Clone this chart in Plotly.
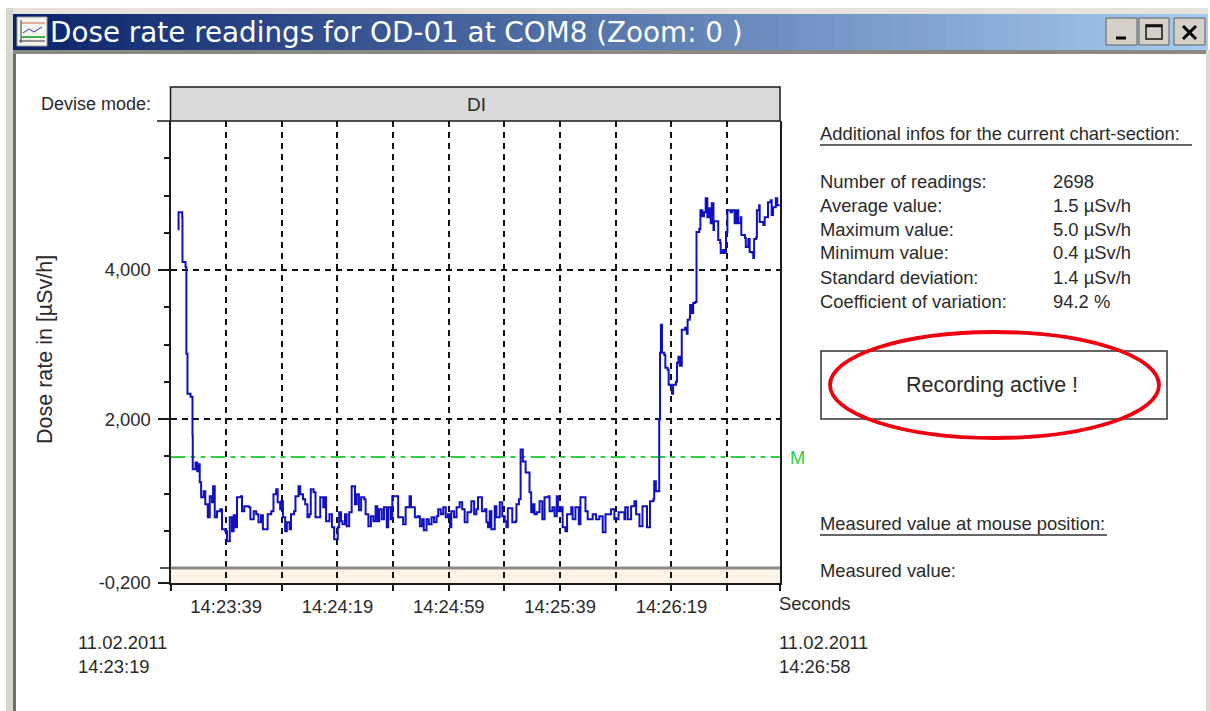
import plotly.graph_objects as go

W, H = 1210, 711

# ---------- chart data (seconds after 14:23:19, dose rate) ----------
seconds = [2.9,2.9,4.2,4.3,5.4,5.7,6.1,7.2,7.9,8.0,9.0,9.6,10.1,10.5,11.0,11.9,12.5,13.4,14.1,14.9,15.3,15.9,16.7,17.9,18.5,19.7,20.3,21.3,22.1,22.7,23.3,23.9,25.3,25.7,26.5,28.1,28.7,29.9,30.8,31.6,32.5,33.2,34.4,34.9,36.2,37.0,38.0,38.5,39.4,39.8,40.4,41.2,41.8,42.8,43.3,44.4,44.9,46.0,46.6,47.6,48.4,49.2,49.9,50.4,51.4,52.1,53.2,53.8,54.9,55.2,55.9,57.1,58.0,58.8,60.1,60.6,61.3,61.8,62.7,63.3,64.2,64.9,65.1,65.9,66.3,66.9,67.7,68.5,69.6,70.1,71.1,72.0,72.9,73.7,74.3,75.0,75.9,76.7,77.7,78.2,79.1,79.7,81.2,81.8,83.0,83.6,84.5,85.7,85.9,86.4,87.3,87.8,88.8,89.6,90.4,91.0,92.0,92.8,93.8,94.7,95.6,96.2,97.1,98.0,98.9,99.7,100.4,100.9,101.9,102.8,103.9,104.8,105.7,106.7,107.9,108.1,109.1,109.9,110.5,111.4,111.9,112.9,113.5,114.1,114.7,115.3,116.5,117.1,118.3,119.2,120.1,120.7,121.2,122.4,122.8,124.0,124.3,125.2,125.8,126.6,127.6,129.0,129.6,130.2,130.8,131.6,132.6,133.6,134.4,135.8,136.2,137.2,138.0,138.8,139.2,140.4,140.9,141.9,142.5,144.0,144.5,145.5,146.7,147.3,148.4,149.1,149.9,151.7,152.9,154.1,155.3,156.3,157.7,158.3,159.5,161.0,163.1,163.4,164.3,165.5,166.7,167.3,168.5,169.6,171.2,172.3,173.5,173.8,174.4,175.4,175.6,175.9,176.2,176.6,177.4,177.8,178.6,179.0,179.8,180.2,180.6,181.6,182.0,182.5,183.0,183.7,183.7,184.9,185.5,185.8,186.6,186.7,187.3,187.8,188.5,189.0,190.0,190.4,191.1,191.7,192.3,192.9,193.5,194.1,194.5,195.1,195.3,196.5,196.8,197.5,197.7,198.5,198.9,199.6,200.1,201.3,201.8,202.7,203.3,204.0,204.9,205.1,206.4,206.7,207.6,208.1,209.1,209.4,209.7,210.5,210.7,211.5,211.7,212.6,213.0,213.5,214.4,214.7,215.7,216.0,216.5,217.5,218.0,218.9]
dose = [4535,4777,4710,4108,4040,2877,2341,2301,1780,1325,1418,1298,1392,1151,950,1030,856,682,963,883,1097,682,763,789,522,495,361,682,495,709,549,950,963,763,830,816,656,763,723,615,709,522,522,723,763,990,1057,883,789,896,682,495,615,522,723,763,963,1097,990,923,856,682,723,1057,1017,682,682,950,816,950,629,723,549,388,549,749,629,589,723,562,749,749,1097,1097,856,990,776,950,923,723,562,696,629,830,629,789,656,816,549,816,656,963,963,682,682,589,816,816,963,816,816,682,696,562,656,508,656,589,682,615,696,789,723,816,682,723,549,763,682,816,883,789,615,749,763,896,723,789,950,950,763,789,615,549,763,522,830,682,883,696,629,549,803,803,615,629,856,923,1592,1432,1284,1017,749,856,723,749,896,656,950,963,763,816,696,963,763,816,549,495,723,816,656,816,589,950,950,763,656,723,656,696,482,723,723,789,656,749,656,816,656,830,896,723,562,830,549,896,923,1164,1030,1030,1994,2890,3265,2890,2863,2689,2663,2462,2422,2341,2462,2502,2756,2837,2716,2716,3198,3225,3144,3332,3372,3532,3425,3559,3572,4509,4549,4803,4723,4777,4964,4710,4830,4629,4897,4536,4656,4656,4402,4362,4228,4268,4228,4509,4803,4777,4803,4629,4803,4629,4710,4469,4429,4308,4415,4241,4228,4161,4415,4442,4803,4870,4643,4643,4603,4710,4710,4910,4937,4737,4844,4964,4870,4870]
mean_dose = 1490
x_tick_seconds = [0, 20, 40, 60, 80, 100, 120, 140, 160, 180, 200, 219]
x_tick_labels = ["", "14:23:39", "", "14:24:19", "", "14:24:59", "", "14:25:39", "", "14:26:19", "", ""]
y_tick_values = [-200, 2000, 4000]
y_tick_labels = ["-0,200", "2,000", "4,000"]
info_labels = ["Number of readings:", "Average value:", "Maximum value:", "Minimum value:", "Standard deviation:", "Coefficient of variation:"]
info_values = ["2698", "1.5 µSv/h", "5.0 µSv/h", "0.4 µSv/h", "1.4 µSv/h", "94.2 %"]

FONT = "Liberation Sans"
INK = "#2a2a2a"
TXT = 18.4

def px(x): return x / W
def py(y): return 1 - y / H

shapes, notes = [], []

def rect(x0, y0, x1, y1, fill=None, line=None, lw=1, layer="above"):
    shapes.append(dict(type="rect", xref="paper", yref="paper", x0=px(x0), x1=px(x1), y0=py(y0), y1=py(y1),
                       fillcolor=fill or "rgba(0,0,0,0)", line=dict(color=line or "rgba(0,0,0,0)", width=lw if line else 0), layer=layer))

def seg(x0, y0, x1, y1, color, lw=1, layer="above"):
    shapes.append(dict(type="line", xref="paper", yref="paper", x0=px(x0), x1=px(x1), y0=py(y0), y1=py(y1),
                       line=dict(color=color, width=lw), layer=layer))

def text(x, y, s, size=TXT, color=INK, anchor="left", angle=0, family=FONT):
    notes.append(dict(xref="paper", yref="paper", x=px(x), y=py(y), text=s, showarrow=False, xanchor=anchor, yanchor="middle",
                      borderpad=0, borderwidth=0, font=dict(family=family, size=size, color=color), textangle=angle))

# ---------- window chrome ----------
rect(6, 8, 1208, 14, fill="#e6e3dc", layer="below")
rect(6, 8, 13, 711, fill="#d9d6cf", layer="below")
rect(13, 50, 16, 711, fill="#6f6d68", layer="below")
rect(13, 50, 1207, 54, fill="#8b8984", layer="below")
rect(1206, 50, 1210, 711, fill="#dcdad4", layer="below")
n = 64
c0, c1 = (10, 36, 106), (166, 202, 240)
for i in range(n):
    f = i / (n - 1)
    col = "rgb(%d,%d,%d)" % tuple(round(a + (b - a) * f) for a, b in zip(c0, c1))
    rect(13 + 1194 * i / n, 14, 13 + 1194 * (i + 1) / n + 1, 50, fill=col, layer="below")
# icon
rect(17, 17, 47, 46, fill="#f4f4ee", line="#9a9a9a")
seg(21, 20, 21, 43, "#333333", 1)
seg(19, 41, 45, 41, "#333333", 1)
seg(21, 23, 45, 23, "#d06a50", 1)
seg(21, 37, 45, 37, "#40b050", 2)
seg(23, 33, 29, 29, "#3040b0", 1)
seg(29, 29, 34, 32, "#3040b0", 1)
seg(34, 32, 42, 27, "#3040b0", 1)
# buttons
for x0, x1 in [(1106, 1137), (1139, 1169), (1174, 1205)]:
    rect(x0, 18, x1, 45, fill="#d4d0c8", line="#5f5f5f", lw=1)
seg(1116, 38, 1126, 38, "#000000", 3)
rect(1146, 25, 1162, 39, line="#111111", lw=1.5)
seg(1146, 26, 1162, 26, "#111111", 2.5)
seg(1183, 26, 1196, 39, "#000000", 3)
seg(1196, 26, 1183, 39, "#000000", 3)
text(50, 33, "Dose rate readings for OD-01 at COM8 (Zoom: 0 )", size=27.8, color="#ffffff", family="DejaVu Sans")

# ---------- chart furniture ----------
L, R, T, B = 170.5, 780, 121, 583
rect(L, 87, R, T, fill="#d9d9d9", line="#1a1a1a", lw=1.5)
seg(157, T, L, T, "#1a1a1a", 1.5)
text(476, 105, "DI", size=19, anchor="center")
text(151, 104, "Devise mode:", anchor="right", size=18)
text(45, 350, "Dose rate in [µSv/h]", size=21.5, anchor="center", angle=-90)
text(779, 603, "Seconds")
text(78, 642, "11.02.2011")
text(78, 666, "14:23:19")
text(779, 642, "11.02.2011")
text(779, 666, "14:26:58")
text(790, 457, "M", size=TXT, color="#33cc44")
shapes.append(dict(type="rect", xref="x domain", yref="y", x0=0, x1=1, y0=-200, y1=0, fillcolor="#fdf6e8", line=dict(width=0), layer="below"))
shapes.append(dict(type="line", xref="x domain", yref="y", x0=0, x1=1, y0=0, y1=0, line=dict(color="#8a8a8a", width=3), layer="above"))
seg(160, 568, L, 568, "#1a1a1a", 1.5)

# ---------- right panel ----------
text(820, 133, "Additional infos for the current chart-section:")
seg(820, 145, 1192, 145, "#333333", 1.5)
for i, (a, b) in enumerate(zip(info_labels, info_values)):
    text(820, 181 + 24 * i, a)
    text(1053, 181 + 24 * i, b)
rect(821, 351, 1167, 419, line="#333333", lw=1.5)
text(992, 385, "Recording active !", size=21.5, anchor="center")
shapes.append(dict(type="circle", xref="paper", yref="paper", x0=px(830), x1=px(1159), y0=py(438), y1=py(332),
                   line=dict(color="#ee0010", width=3.8), fillcolor="rgba(0,0,0,0)"))
text(820, 523, "Measured value at mouse position:")
seg(820, 535, 1107, 535, "#333333", 1.5)
text(820, 570, "Measured value:")

fig = go.Figure()
fig.add_trace(go.Scatter(x=[0, 219], y=[mean_dose, mean_dose], mode="lines", hoverinfo="skip",
                         line=dict(color="#33cc44", width=2, dash="15px,5px,5px,5px,5px,5px")))
fig.add_trace(go.Scatter(x=seconds, y=dose, mode="lines", line=dict(color="#1010c0", width=2, shape="hv")))

fig.update_layout(
    template="none",
    width=W, height=H, autosize=False, margin=dict(l=0, r=0, t=0, b=0, pad=0, autoexpand=False), paper_bgcolor="#ffffff", plot_bgcolor="#ffffff",
    showlegend=False, shapes=shapes, annotations=notes, font=dict(family=FONT, size=TXT, color=INK),
    xaxis=dict(domain=[px(L), px(R)], range=[0, 219], automargin=False, tickmode="array", tickvals=x_tick_seconds, ticktext=x_tick_labels,
               ticks="outside", ticklen=6, tickcolor="#1a1a1a", tickwidth=1.5, showgrid=True, gridcolor="#111111", griddash="6px,5px",
               gridwidth=1.5, showline=True, linecolor="#1a1a1a", linewidth=1.5, mirror=False, zeroline=False, tickfont=dict(size=TXT, color=INK)),
    yaxis=dict(domain=[py(B), py(T)], range=[-200, 6000], automargin=False, tickmode="array", tickvals=y_tick_values, ticktext=y_tick_labels,
               ticks="outside", ticklen=11, tickcolor="#1a1a1a", tickwidth=1.5, showgrid=True, gridcolor="#111111", griddash="6px,5px",
               gridwidth=1.5, showline=True, linecolor="#1a1a1a", linewidth=2, mirror=True, zeroline=False, tickfont=dict(size=TXT, color=INK),
               ticklabelstandoff=3,
               minor=dict(tickmode="array", tickvals=[500, 1000, 1500, 2500, 3000, 3500, 4500, 5000, 5500], ticks="outside", ticklen=5,
                          tickcolor="#1a1a1a", tickwidth=1.5, showgrid=False)),
)
fig.write_html("out.html", config=dict(displayModeBar=False),
               post_script="document.body.style.margin='0';document.documentElement.style.overflow='hidden';")
